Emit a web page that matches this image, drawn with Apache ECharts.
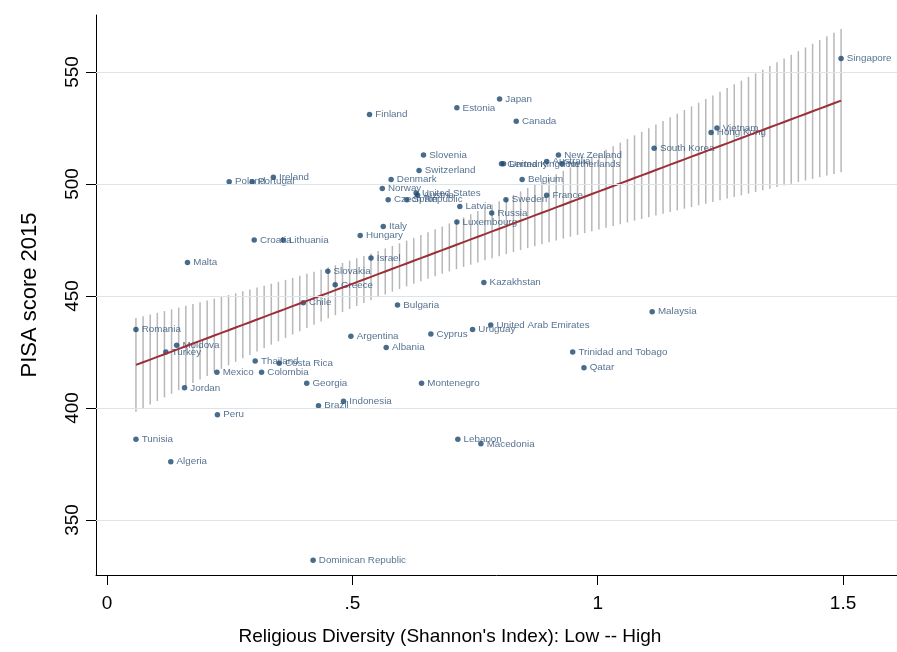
<!DOCTYPE html>
<html>
<head>
<meta charset="utf-8">
<script src="https://cdn.jsdelivr.net/npm/echarts@6/dist/echarts.min.js"></script>
<style>
  html, body { margin: 0; padding: 0; background: #ffffff; }
  #chart { width: 897px; height: 652px; }
</style>
</head>
<body>
<div id="chart"></div>
<script>
// PISA 2015 science score against religious diversity (Shannon's index)
const countries = [
  'Singapore', 'Japan', 'Estonia', 'Finland', 'Canada', 'Vietnam', 'Hong Kong',
  'South Korea', 'New Zealand', 'Slovenia', 'Germany', 'United Kingdom', 'Australia',
  'Netherlands', 'Switzerland', 'Denmark', 'Belgium', 'Ireland', 'Poland', 'Portugal',
  'Norway', 'United States', 'Austria', 'Czech Republic', 'Spain', 'Sweden', 'France',
  'Latvia', 'Russia', 'Luxembourg', 'Italy', 'Hungary', 'Croatia', 'Lithuania', 'Malta',
  'Israel', 'Slovakia', 'Greece', 'Chile', 'Kazakhstan', 'Bulgaria', 'Malaysia',
  'Romania', 'United Arab Emirates', 'Uruguay', 'Cyprus', 'Argentina', 'Albania',
  'Moldova', 'Turkey', 'Trinidad and Tobago', 'Thailand', 'Costa Rica', 'Qatar',
  'Mexico', 'Colombia', 'Georgia', 'Montenegro', 'Jordan', 'Indonesia', 'Brazil',
  'Peru', 'Tunisia', 'Lebanon', 'Macedonia', 'Algeria', 'Dominican Republic'
];
const diversity = [
  1.496, 0.800, 0.713, 0.535, 0.834, 1.243, 1.231,
  1.115, 0.920, 0.645, 0.804, 0.808, 0.896,
  0.927, 0.636, 0.579, 0.846, 0.339, 0.249, 0.296,
  0.561, 0.630, 0.633, 0.573, 0.611, 0.813, 0.896,
  0.719, 0.784, 0.713, 0.563, 0.516, 0.300, 0.359, 0.164,
  0.538, 0.450, 0.465, 0.400, 0.768, 0.592, 1.111,
  0.059, 0.782, 0.745, 0.660, 0.497, 0.569,
  0.142, 0.120, 0.949, 0.302, 0.351, 0.972,
  0.224, 0.315, 0.407, 0.641, 0.158, 0.482, 0.431,
  0.225, 0.059, 0.715, 0.762, 0.130, 0.420
];
const pisa = [
  556, 538, 534, 531, 528, 525, 523,
  516, 513, 513, 509, 509, 510,
  509, 506, 502, 502, 503, 501, 501,
  498, 496, 495, 493, 493, 493, 495,
  490, 487, 483, 481, 477, 475, 475, 465,
  467, 461, 455, 447, 456, 446, 443,
  435, 437, 435, 433, 432, 427,
  428, 425, 425, 421, 420, 418,
  416, 416, 411, 411, 409, 403, 401,
  397, 386, 386, 384, 376, 332
];
const xTicks = [0, 0.5, 1, 1.5];
const yTicks = [350, 400, 450, 500, 550];
const xTitle = "Religious Diversity (Shannon's Index): Low -- High";
const yTitle = 'PISA score 2015';
const ciPoints = 100;

// Linear fit with 95% confidence interval of the prediction (as in lfitci)
function linearFitCI(xs, ys, nPts) {
  const n = xs.length;
  const xbar = xs.reduce((s, v) => s + v, 0) / n;
  const ybar = ys.reduce((s, v) => s + v, 0) / n;
  let sxx = 0, sxy = 0;
  for (let i = 0; i < n; i++) {
    sxx += (xs[i] - xbar) * (xs[i] - xbar);
    sxy += (xs[i] - xbar) * (ys[i] - ybar);
  }
  const b = sxy / sxx;
  const a = ybar - b * xbar;
  let rss = 0;
  for (let i = 0; i < n; i++) {
    const r = ys[i] - (a + b * xs[i]);
    rss += r * r;
  }
  const df = n - 2;
  const s2 = rss / df;
  const z = 1.959964;
  const t = z + (z * z * z + z) / (4 * df) +
    (5 * Math.pow(z, 5) + 16 * z * z * z + 3 * z) / (96 * df * df);
  const xmin = Math.min(...xs), xmax = Math.max(...xs);
  const fit = [], band = [];
  for (let k = 0; k < nPts; k++) {
    const x = xmin + (xmax - xmin) * k / (nPts - 1);
    const yhat = a + b * x;
    const se = Math.sqrt(s2 * (1 / n + (x - xbar) * (x - xbar) / sxx));
    fit.push([x, yhat]);
    band.push([x, yhat - t * se, yhat + t * se]);
  }
  return { fit, band };
}

const model = linearFitCI(diversity, pisa, ciPoints);
const points = countries.map((c, i) => ({ name: c, value: [diversity[i], pisa[i]] }));

const FONT = '"Liberation Sans", Arial, Helvetica, sans-serif';
const NAVY = '#1a476f';

const chart = echarts.init(document.getElementById('chart'), null, { renderer: 'canvas' });
chart.setOption({
  animation: false,
  backgroundColor: '#ffffff',
  textStyle: { fontFamily: FONT },
  grid: { left: 96, right: 0, top: 15, bottom: 77, containLabel: false },
  xAxis: {
    type: 'value',
    min: -0.02242,
    max: 1.60994,
    axisLine: { show: true, onZero: false, lineStyle: { color: '#000000', width: 1 } },
    axisTick: { show: true, customValues: xTicks, length: 10, lineStyle: { color: '#000000', width: 1 } },
    axisLabel: {
      customValues: xTicks,
      margin: 19,
      fontSize: 19,
      color: '#000000',
      fontFamily: FONT,
      formatter: v => (v === 0 ? '0' : String(v).replace(/^0\./, '.'))
    },
    splitLine: { show: false }
  },
  yAxis: {
    type: 'value',
    min: 325.446,
    max: 575.446,
    axisLine: { show: true, onZero: false, lineStyle: { color: '#000000', width: 1 } },
    axisTick: { show: true, customValues: yTicks, length: 10, lineStyle: { color: '#000000', width: 1 } },
    axisLabel: {
      customValues: yTicks,
      rotate: 90,
      margin: 14,
      fontSize: 19,
      color: '#000000',
      fontFamily: FONT
    },
    splitLine: { show: false }
  },
  graphic: [
    {
      type: 'text',
      x: 450, y: 637,
      style: {
        text: xTitle, font: '19px ' + FONT, fill: '#000000',
        align: 'center', verticalAlign: 'middle'
      }
    },
    {
      type: 'text',
      x: 30, y: 295,
      rotation: Math.PI / 2,
      style: {
        text: yTitle, font: '22px ' + FONT, fill: '#000000',
        align: 'center', verticalAlign: 'middle'
      }
    }
  ],
  series: [
    {
      // horizontal grid lines
      type: 'line',
      data: [],
      silent: true,
      z: 0,
      markLine: {
        silent: true,
        symbol: ['none', 'none'],
        label: { show: false },
        lineStyle: { color: '#d9e5ea', width: 1, type: 'solid' },
        data: yTicks.map(v => ({ yAxis: v }))
      }
    },
    {
      // confidence interval spikes
      type: 'custom',
      z: 1,
      silent: true,
      data: model.band,
      renderItem: (params, api) => {
        const lo = api.coord([api.value(0), api.value(1)]);
        const hi = api.coord([api.value(0), api.value(2)]);
        return {
          type: 'line',
          shape: { x1: lo[0], y1: lo[1], x2: hi[0], y2: hi[1] },
          style: { stroke: '#b8b8b8', lineWidth: 1.5 }
        };
      }
    },
    {
      type: 'scatter',
      z: 3,
      data: points,
      symbol: 'circle',
      symbolSize: 5.5,
      itemStyle: { color: NAVY },
      label: {
        show: true,
        position: 'right',
        distance: 3,
        formatter: p => p.name,
        fontSize: 9.8,
        fontFamily: FONT,
        color: '#2c4f75'
      }
    },
    {
      // fitted line
      type: 'line',
      z: 4,
      data: model.fit,
      showSymbol: false,
      symbol: 'none',
      lineStyle: { color: '#9b3038', width: 2 }
    }
  ]
});
</script>
</body>
</html>
